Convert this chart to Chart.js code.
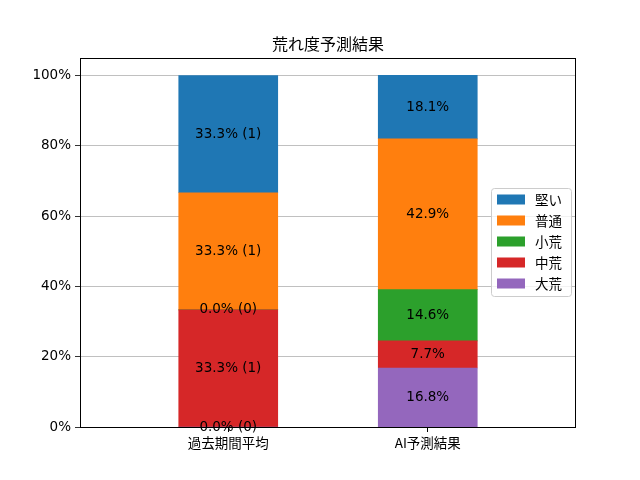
<!DOCTYPE html>
<html>
<head>
  <meta charset="utf-8">
  <title>荒れ度予測結果</title>
  <script src="https://cdn.jsdelivr.net/npm/chart.js"></script>
  <style>
    body { margin: 0; background: #fff; }
    #chart { display: block; }
  </style>
</head>
<body>
<canvas id="chart" width="640" height="480"></canvas>
<script>
// categories on the x axis
const categories = ['過去期間平均', 'AI予測結果'];

// series, bottom of the stack first
const seriesNames = ['大荒', '中荒', '小荒', '普通', '堅い'];
const seriesColors = ['#9467bd', '#d62728', '#2ca02c', '#ff7f0e', '#1f77b4'];

// percentages per series for each category
const pastPct = [0, 33.33, 0, 33.33, 33.34];
const pastCounts = [0, 1, 0, 1, 1];
const aiPct = [16.8, 7.7, 14.6, 42.9, 18.1];

const yTicks = [0, 20, 40, 60, 80, 100];

const JP = '"Noto Sans CJK JP", sans-serif';
const NUM = '"DejaVu Sans", "Noto Sans CJK JP", sans-serif';

// build datasets from the arrays
let datasets = [];
for (let i = 0; i < seriesNames.length; i++) {
  datasets.push({
    label: seriesNames[i],
    data: [
      { x: 0, y: pastPct[i] },
      { x: 1, y: aiPct[i] }
    ],
    backgroundColor: seriesColors[i],
    borderWidth: 0,
    barThickness: 99
  });
}

// text in the middle of every segment
const segmentLabels = {
  id: 'segmentLabels',
  afterDatasetsDraw(chart) {
    const ctx = chart.ctx;
    ctx.save();
    ctx.font = '13.5px ' + NUM;
    ctx.fillStyle = '#000';
    ctx.textAlign = 'center';
    ctx.textBaseline = 'middle';
    chart.data.datasets.forEach((ds, i) => {
      const meta = chart.getDatasetMeta(i);
      meta.data.forEach((bar, j) => {
        const v = ds.data[j].y;
        let txt = v.toFixed(1) + '%';
        if (j === 0) txt += ' (' + pastCounts[i] + ')';
        ctx.fillText(txt, bar.x, (bar.y + bar.base) / 2);
      });
    });
    ctx.restore();
  }
};

// frame, title and the legend inside the plot
const decorations = {
  id: 'decorations',
  afterDraw(chart) {
    const ctx = chart.ctx;
    const a = chart.chartArea;
    ctx.save();
    ctx.strokeStyle = '#000';
    ctx.lineWidth = 1;
    ctx.strokeRect(a.left + 0.5, a.top + 0.5, a.right - a.left - 1, a.bottom - a.top);

    ctx.fillStyle = '#000';
    ctx.font = '16px ' + JP;
    ctx.textAlign = 'center';
    ctx.textBaseline = 'middle';
    ctx.fillText('荒れ度予測結果', (a.left + a.right) / 2, 44);

    // legend box
    const bx = 491.5, by = 188.5, bw = 80, bh = 108;
    ctx.beginPath();
    ctx.roundRect(bx, by, bw, bh, 3);
    ctx.fillStyle = 'rgba(255,255,255,0.8)';
    ctx.fill();
    ctx.strokeStyle = '#cccccc';
    ctx.stroke();

    ctx.font = '13.5px ' + JP;
    ctx.textAlign = 'left';
    const n = seriesNames.length;
    for (let k = 0; k < n; k++) {
      const i = n - 1 - k;
      const cy = 199.5 + k * 21;
      ctx.fillStyle = seriesColors[i];
      ctx.fillRect(497, cy - 5, 28, 10);
      ctx.fillStyle = '#000';
      ctx.fillText(seriesNames[i], 535, cy);
    }
    ctx.restore();
  }
};

let options = {
  type: 'bar',
  data: { datasets: datasets },
  options: {
    responsive: false,
    animation: false,
    devicePixelRatio: 1,
    layout: { padding: { top: 58, right: 64, left: 0, bottom: 0 } },
    plugins: {
      legend: { display: false },
      title: { display: false },
      tooltip: { enabled: false }
    },
    scales: {
      x: {
        type: 'linear',
        stacked: true,
        offset: false,
        min: -0.743,
        max: 1.743,
        afterBuildTicks: s => { s.ticks = categories.map((c, i) => ({ value: i })); },
        afterFit: s => { s.height = 53; },
        ticks: {
          callback: v => categories[v],
          color: '#000',
          font: { family: JP, size: 13.5 },
          padding: 3,
          maxRotation: 0
        },
        grid: {
          display: true,
          drawOnChartArea: false,
          drawTicks: true,
          tickLength: 5,
          tickColor: '#000',
          offset: false
        },
        border: { display: false }
      },
      y: {
        stacked: true,
        min: 0,
        max: 105,
        afterBuildTicks: s => { s.ticks = yTicks.map(v => ({ value: v })); },
        afterFit: s => { s.width = 80; },
        ticks: {
          callback: v => v + '%',
          color: '#000',
          font: { family: NUM, size: 13.5 },
          padding: 4
        },
        grid: {
          color: '#b0b0b0',
          lineWidth: 0.8,
          drawTicks: true,
          tickLength: 5,
          tickColor: '#000'
        },
        border: { display: false }
      }
    }
  },
  plugins: [segmentLabels, decorations]
};

let chart = new Chart(document.getElementById('chart'), options);
</script>
</body>
</html>
